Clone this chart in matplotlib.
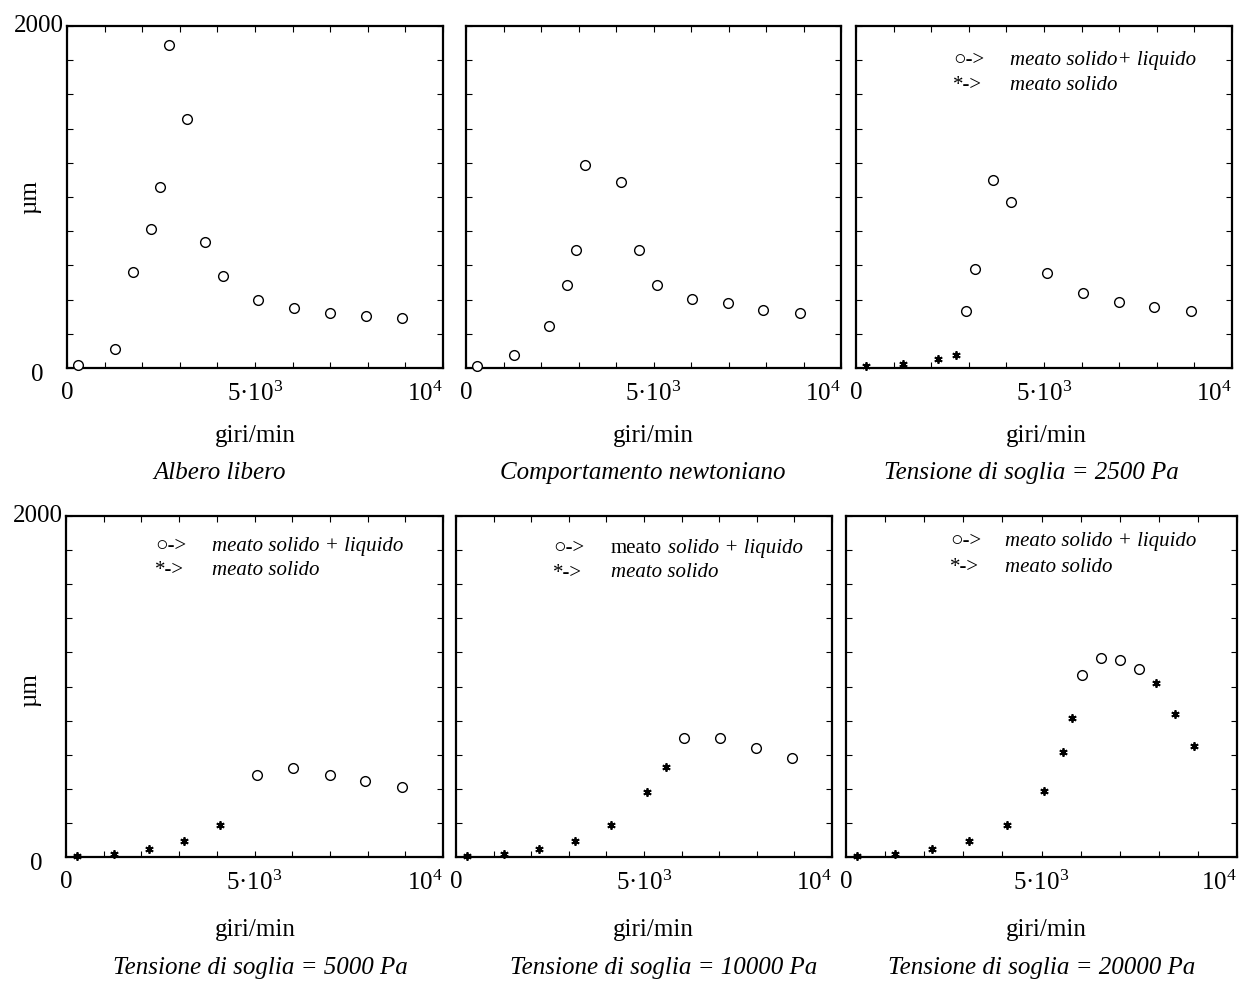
import matplotlib
matplotlib.use("Agg")
import matplotlib.pyplot as plt

plt.rcParams['font.family'] = ['Liberation Serif', 'DejaVu Serif']
plt.rcParams['mathtext.fontset'] = 'custom'
plt.rcParams['mathtext.rm'] = 'Liberation Serif'
plt.rcParams['mathtext.it'] = 'Liberation Serif:italic'

# ---------------- data (giri/min, µm) ----------------
x_libero = [300, 1280, 1750, 2230, 2470, 2720, 3180, 3660, 4150, 5090, 6030, 7000, 7950, 8920]
y_libero = [16, 110, 560, 810, 1060, 1890, 1455, 735, 540, 400, 350, 322, 305, 290]

x_newton = [300, 1270, 2210, 2690, 2930, 3160, 4120, 4600, 5080, 6030, 6990, 7930, 8900]
y_newton = [14, 76, 245, 488, 689, 1190, 1090, 689, 488, 403, 379, 342, 321]

x_2500_liq = [2930, 3160, 3640, 4130, 5080, 6030, 7000, 7930, 8910]
y_2500_liq = [333, 579, 1097, 971, 554, 439, 386, 359, 333]
x_2500_sol = [275, 1240, 2180, 2670]
y_2500_sol = [10, 23, 53, 76]

x_5000_liq = [5070, 6010, 6990, 7930, 8900]
y_5000_liq = [479, 522, 481, 444, 411]
x_5000_sol = [280, 1260, 2190, 3140, 4090]
y_5000_sol = [4, 18, 45, 94, 188]

x_10000_liq = [6060, 7030, 7980, 8930]
y_10000_liq = [696, 696, 639, 579]
x_10000_sol = [300, 1270, 2210, 3160, 4130, 5090, 5580]
y_10000_sol = [4, 20, 47, 94, 186, 383, 528]

x_20000_liq = [6030, 6510, 7000, 7490]
y_20000_liq = [1067, 1165, 1153, 1101]
x_20000_sol = [270, 1260, 2200, 3150, 4120, 5060, 5550, 5770, 7930, 8410, 8890]
y_20000_sol = [4, 18, 47, 94, 188, 385, 614, 813, 1019, 839, 653]

subtitles = ["Albero libero", "Comportamento newtoniano", "Tensione di soglia = 2500 Pa",
             "Tensione di soglia = 5000 Pa", "Tensione di soglia = 10000 Pa",
             "Tensione di soglia = 20000 Pa"]
xtick_vals = [0, 5000, 10000]
xtick_labels = ["0", "5·10$^{3}$", "10$^{4}$"]

# ---------------- layout ----------------
W, H = 1247, 983
fig = plt.figure(figsize=(W / 100, H / 100), dpi=100)

def px_axes(l, t, r, b):
    return fig.add_axes([l / W, 1 - b / H, (r - l) / W, (b - t) / H])

axes = [
    px_axes(67, 26, 443, 368),
    px_axes(466, 26, 841, 368),
    px_axes(856, 26, 1232, 368),
    px_axes(66, 516, 443, 857),
    px_axes(456, 516, 832, 857),
    px_axes(846, 516, 1237, 857),
]

series = [
    ([(x_libero, y_libero)], []),
    ([(x_newton, y_newton)], []),
    ([(x_2500_liq, y_2500_liq)], [(x_2500_sol, y_2500_sol)]),
    ([(x_5000_liq, y_5000_liq)], [(x_5000_sol, y_5000_sol)]),
    ([(x_10000_liq, y_10000_liq)], [(x_10000_sol, y_10000_sol)]),
    ([(x_20000_liq, y_20000_liq)], [(x_20000_sol, y_20000_sol)]),
]

for ax, (opens, stars) in zip(axes, series):
    for xs, ys in opens:
        ax.plot(xs, ys, linestyle='none', marker='o', markersize=7,
                markerfacecolor='white', markeredgecolor='black', markeredgewidth=1.0,
                clip_on=False, zorder=3)
    for xs, ys in stars:
        ax.plot(xs, ys, linestyle='none', marker=(6, 2, 0), markersize=6,
                color='black', markeredgewidth=1.3, clip_on=False, zorder=3)
    ax.set_xlim(0, 10000)
    ax.set_ylim(0, 2000)
    ax.set_xticks(range(0, 10001, 1000))
    ax.set_xticklabels([xtick_labels[xtick_vals.index(v)] if v in xtick_vals else ""
                        for v in range(0, 10001, 1000)])
    ax.set_yticks(range(0, 2001, 200))
    ax.set_yticklabels([])
    ax.tick_params(direction='in', length=4, width=0.8, top=True, right=True,
                   left=True, bottom=True, labelsize=18, pad=10)
    labs = ax.get_xticklabels()
    labs[-1].set_horizontalalignment('right')
    for s in ax.spines.values():
        s.set_linewidth(1.6)

# y tick labels (left column only)
for ax in (axes[0], axes[3]):
    ax.text(-0.008, 1.0, "2000", transform=ax.transAxes, ha='right', va='center', fontsize=18)
    ax.text(-0.08, -0.02, "0", transform=ax.transAxes, ha='center', va='center', fontsize=18)

# y labels
fig.text(30 / W, 1 - 197 / H, "µm", rotation=90, ha='center', va='center', fontsize=18)
fig.text(30 / W, 1 - 690 / H, "µm", rotation=90, ha='center', va='center', fontsize=18)

# x labels & subtitles
xl_centers = [255, 653, 1046, 255, 653, 1046]
sub_centers = [220, 643, 1031, 260, 664, 1042]
for i in range(6):
    yb = 436 if i < 3 else 930
    ys = 473 if i < 3 else 968
    fig.text(xl_centers[i] / W, 1 - yb / H, "giri/min", ha='center', va='center', fontsize=18)
    fig.text(sub_centers[i] / W, 1 - ys / H, subtitles[i], ha='center', va='center',
             fontsize=18, style='italic')

# legends (text annotations)
leg_pos = {
    2: (0.258, 0.41, 0.898, 0.825, "meato solido+ liquido"),
    3: (0.236, 0.387, 0.912, 0.839, "meato solido + liquido"),
    4: (0.258, 0.412, 0.906, 0.833, None),
    5: (0.266, 0.407, 0.924, 0.85, "meato solido + liquido"),
}
for i, (sx, tx, y1, y2, lab) in leg_pos.items():
    ax = axes[i]
    ax.text(sx, y1, "○->", transform=ax.transAxes, ha='left', va='center', fontsize=15,
            family=['Liberation Serif', 'DejaVu Sans'])
    ax.text(sx, y2, "*->", transform=ax.transAxes, ha='left', va='center', fontsize=15)
    if lab is not None:
        ax.text(tx, y1, lab, transform=ax.transAxes, ha='left', va='center', fontsize=15,
                style='italic')
    else:
        ax.text(tx, y1, "meato", transform=ax.transAxes, ha='left', va='center', fontsize=15)
        ax.text(0.564, y1, "solido + liquido", transform=ax.transAxes, ha='left',
                va='center', fontsize=15, style='italic')
    ax.text(tx, y2, "meato solido", transform=ax.transAxes, ha='left', va='center',
            fontsize=15, style='italic')

fig.savefig("out.png", dpi=100, facecolor='white')
